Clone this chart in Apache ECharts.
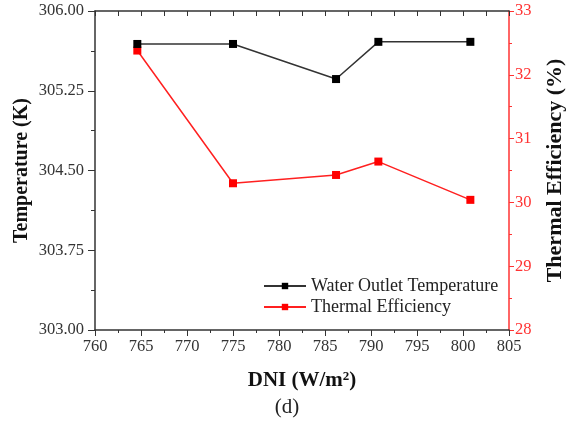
<!DOCTYPE html>
<html><head><meta charset="utf-8">
<script src="https://cdn.jsdelivr.net/npm/echarts@6/dist/echarts.min.js"></script>
<style>html,body{margin:0;padding:0;background:#fff}#c{width:574px;height:422px}</style>
</head><body><div id="c"></div>
<script>
var dni = [764.6, 775.0, 786.2, 790.8, 800.8];
var waterOutletTemp = [305.69, 305.69, 305.36, 305.71, 305.71];
var thermalEff = [32.38, 30.30, 30.43, 30.64, 30.04];
var leftTicks = [303.00, 303.75, 304.50, 305.25, 306.00];

var F = 'Liberation Serif, Times New Roman, serif';
var chart = echarts.init(document.getElementById('c'));
function pairs(xs, ys){ return xs.map(function(x,i){return [x, ys[i]];}); }
chart.setOption({
  animation: false,
  textStyle: {fontFamily: F},
  grid: {left: 95, right: 65, top: 11, bottom: 92, containLabel: false, outerBoundsMode: 'none'},
  legend: {
    left: 258, top: 272, orient: 'vertical', itemGap: 3, itemWidth: 42, itemHeight: 8,
    textStyle: {fontFamily: F, fontSize: 18, color: '#222'},
    data: ['Water Outlet Temperature', 'Thermal Efficiency']
  },
  xAxis: [{
    type: 'value', min: 760, max: 805, interval: 5, position: 'bottom',
    axisLine: {lineStyle: {color: '#333', width: 1.5}},
    axisTick: {inside: false, length: 6, lineStyle: {color: '#333'}},
    minorTick: {show: true, splitNumber: 2, length: 3, lineStyle: {color: '#333'}},
    splitLine: {show: false},
    axisLabel: {fontFamily: F, fontSize: 16.5, color: '#333', margin: 8},
    name: '{b|DNI (W/m}{s|2}{b|)}', nameLocation: 'middle', nameGap: 40,
    nameTextStyle: {rich: {
      b: {fontFamily: F, fontSize: 21, fontWeight: 'bold', color: '#111'},
      s: {fontFamily: F, fontSize: 13, fontWeight: 'bold', color: '#111', verticalAlign: 'top', padding: [0,0,9,0]}
    }}
  }, {
    type: 'value', min: 760, max: 805, interval: 5, position: 'top',
    axisLine: {lineStyle: {color: '#333', width: 1.5}},
    axisTick: {inside: true, length: 5, lineStyle: {color: '#333'}},
    minorTick: {show: true, splitNumber: 2, length: 5, lineStyle: {color: '#333'}},
    splitLine: {show: false}, axisLabel: {show: false}
  }],
  yAxis: [{
    type: 'value', min: leftTicks[0], max: leftTicks[leftTicks.length-1], interval: 0.75, position: 'left',
    axisLine: {show: true, lineStyle: {color: '#333', width: 1.5}},
    axisTick: {show: true, inside: false, length: 7, lineStyle: {color: '#333'}},
    minorTick: {show: true, splitNumber: 2, length: 4, lineStyle: {color: '#333'}},
    splitLine: {show: false},
    axisLabel: {fontFamily: F, fontSize: 16.5, color: '#333', margin: 11, formatter: function(v){return v.toFixed(2);}},
    name: 'Temperature (K)', nameLocation: 'middle', nameGap: 63, nameRotate: 90, nameMoveOverlap: false,
    nameTextStyle: {fontFamily: F, fontSize: 20, fontWeight: 'bold', color: '#111'}
  }, {
    type: 'value', min: 28, max: 33, interval: 1, position: 'right',
    axisLine: {show: true, lineStyle: {color: '#ff3333', width: 1.5}},
    axisTick: {show: true, inside: false, length: 5, lineStyle: {color: '#ff3333'}},
    minorTick: {show: true, splitNumber: 2, length: 3, lineStyle: {color: '#ff3333'}},
    splitLine: {show: false},
    axisLabel: {fontFamily: F, fontSize: 16.5, color: '#ff3333', margin: 6},
    name: 'Thermal Efficiency (%)', nameLocation: 'middle', nameGap: 35, nameRotate: 90,
    nameTextStyle: {fontFamily: F, fontSize: 22, fontWeight: 'bold', color: '#111'}
  }],
  graphic: [{
    type: 'text', left: 'center', top: 397,
    style: {text: '(d)', font: '21px ' + F, fill: '#222'}
  }],
  series: [{
    name: 'Water Outlet Temperature', type: 'line', xAxisIndex: 0, yAxisIndex: 0,
    data: pairs(dni, waterOutletTemp), symbol: 'rect', symbolSize: 8,
    lineStyle: {color: '#333', width: 1.5}, itemStyle: {color: '#000'}, z: 3
  }, {
    name: 'Thermal Efficiency', type: 'line', xAxisIndex: 0, yAxisIndex: 1,
    data: pairs(dni, thermalEff), symbol: 'rect', symbolSize: 8,
    lineStyle: {color: '#ff2020', width: 1.5}, itemStyle: {color: '#ff0000'}, z: 2
  }]
});
</script></body></html>
